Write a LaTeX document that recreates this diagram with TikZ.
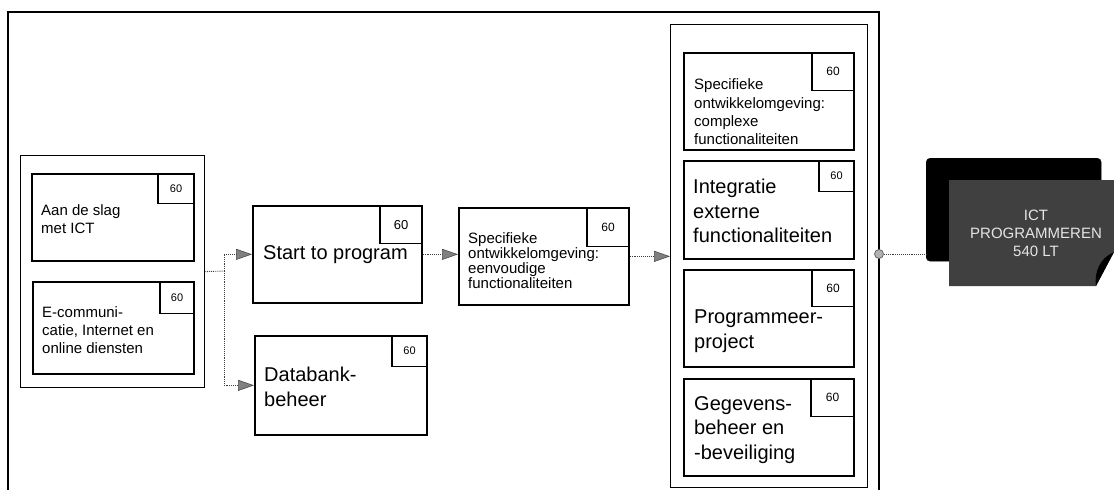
\documentclass[tikz,border=0pt]{standalone}
\usepackage{fontspec}
\setmainfont{Liberation Sans}
\usetikzlibrary{arrows.meta,calc}
\newcommand\smallf{\fontsize{15}{18.3}\selectfont}
\newcommand\tightf{\fontsize{15}{15}\selectfont}
\newcommand\bigf{\fontsize{20}{24.5}\selectfont}
\begin{document}
\begin{tikzpicture}[x=1pt,y=-1pt,
  box/.style={draw, line width=1.7pt, rectangle, inner sep=0pt, anchor=north west},
  grp/.style={draw, line width=1.3pt, rectangle, inner sep=0pt, anchor=north west},
  badge/.style={draw, line width=1.4pt, rectangle, inner sep=0pt, anchor=north east, font=\fontsize{11}{11}\selectfont},
  lbl/.style={anchor=west, inner sep=0pt, align=left},
  conn/.style={draw=black!75, densely dotted, line width=0.9pt},
  arr/.style={conn, -{Triangle[length=16pt,width=11pt,fill=black!50,color=black!70,line width=0.6pt]}}
]
\useasboundingbox (0,0) rectangle (1114,490);
% outer frame
\draw[line width=1.2pt] (8,495) -- (8,12) -- (879,12) -- (879,495);
% left group
\node[grp, minimum width=184pt, minimum height=232pt] (lg) at (20,155) {};
\node[box, minimum width=162pt, minimum height=87pt] (aan) at (31,173) {};
\node[badge, minimum width=36pt, minimum height=30pt] (aanb) at (aan.north east) {60};
\node[lbl, font=\smallf] (aant) at (41,219) {Aan de slag\\met ICT};
\node[box, minimum width=161pt, minimum height=92pt] (ecom) at (32,281) {};
\node[badge, minimum width=34pt, minimum height=32pt] (ecomb) at (ecom.north east) {60};
\node[lbl, font=\smallf] (ecomt) at (42,330) {E-communi-\\catie, Internet en\\online diensten};
% start / databank
\node[box, minimum width=169pt, minimum height=97pt] (start) at (252,205) {};
\node[badge, minimum width=42pt, minimum height=38pt, font=\fontsize{13}{13}\selectfont] (startb) at (start.north east) {60};
\node[lbl, font=\bigf] (startt) at (263,255) {Start to program};
\node[box, minimum width=172pt, minimum height=99pt] (db) at (254,335) {};
\node[badge, minimum width=35pt, minimum height=31pt] (dbb) at (db.north east) {60};
\node[lbl, font=\bigf] (dbt) at (264,387) {Databank-\\beheer};
% specifieke eenvoudig
\node[box, minimum width=170pt, minimum height=97pt] (spec) at (458,207) {};
\node[badge, minimum width=42pt, minimum height=39pt, font=\fontsize{12}{12}\selectfont] (specb) at (spec.north east) {60};
\node[lbl, font=\tightf] (spect) at (468,261) {Specifieke\\ontwikkelomgeving:\\eenvoudige\\functionaliteiten};
% right group
\node[grp, minimum width=197pt, minimum height=463pt] (rg) at (670,24) {};
\node[box, minimum width=170pt, minimum height=97pt] (r1) at (683,52) {};
\node[badge, minimum width=42pt, minimum height=38pt, font=\fontsize{12}{12}\selectfont] (r1b) at (r1.north east) {60};
\node[lbl, font=\smallf] (r1t) at (694,112) {Specifieke\\ontwikkelomgeving:\\complexe\\functionaliteiten};
\node[box, minimum width=170pt, minimum height=98pt] (r2) at (683,160) {};
\node[badge, minimum width=35pt, minimum height=31pt] (r2b) at (r2.north east) {60};
\node[lbl, font=\bigf] (r2t) at (693,211) {Integratie\\externe\\functionaliteiten};
\node[box, minimum width=170pt, minimum height=97pt] (r3) at (683,269) {};
\node[badge, minimum width=42pt, minimum height=37pt, font=\fontsize{12}{12}\selectfont] (r3b) at (r3.north east) {60};
\node[lbl, font=\bigf] (r3t) at (694,331) {Programmeer-\\project};
\node[box, minimum width=170pt, minimum height=97pt] (r4) at (683,378) {};
\node[badge, minimum width=43pt, minimum height=38pt, font=\fontsize{12}{12}\selectfont] (r4b) at (r4.north east) {60};
\node[lbl, font=\bigf] (r4t) at (694,430) {Gegevens-\\beheer en\\-beveiliging};
% connectors
\coordinate (j) at (224,271);
\draw[conn] (lg.east) -- (j);
\draw[arr] (j) |- (start.west);
\draw[arr] (j) |- (db.west);
\draw[arr] (start.east) -- (start.east -| spec.west);
\draw[arr] (spec.east) -- (spec.east -| rg.west);
% ICT shape
\node[draw=black, fill=black, rounded corners=4pt, minimum width=175pt, minimum height=103pt, inner sep=0pt, anchor=north west] (back) at (926,158) {};
\fill[black!75] (949,180) -- (1114,180) -- (1114,252) -- (1096,286) -- (949,286) -- cycle;
\fill[black] (1114,252) -- (1096,286) .. controls (1094,272) and (1100,258) .. (1114,252) -- cycle;
\node[align=center, text=white!90!black, font=\fontsize{15}{18}\selectfont, inner sep=0pt] (ict) at (1036,233) {ICT\\PROGRAMMEREN\\540 LT};
\node[circle, fill=gray!60, draw=black!60, line width=0.8pt, minimum size=9pt, inner sep=0pt] (dot) at (879,254) {};
\draw[conn] (dot) -- (dot -| back.west);
\end{tikzpicture}
\end{document}
